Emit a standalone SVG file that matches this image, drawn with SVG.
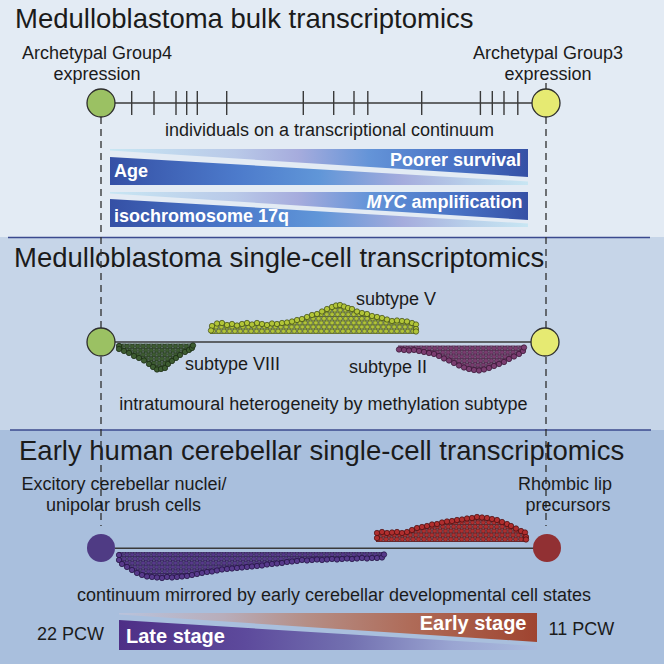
<svg xmlns="http://www.w3.org/2000/svg" width="664" height="664" viewBox="0 0 664 664">
<style>
text{font-family:"Liberation Sans",Arial,Helvetica,sans-serif;fill:#1b1b1b}
.t{font-size:27.5px}
.l{font-size:18px}
.b{font-size:18px;font-weight:bold;fill:#fff}
.b2{font-size:20px;font-weight:bold;fill:#fff}
.mid{text-anchor:middle}
.end{text-anchor:end}
.dash{stroke:#2e2e2e;stroke-width:1.3;stroke-dasharray:7 5;fill:none}
.axis{stroke:#3a3a3a;stroke-width:1.6;fill:none}
.tick{stroke:#3a3a3a;stroke-width:1.4}
.div{stroke:#3b4a8e;stroke-width:1.4}
.ring{stroke:#2e2e2e;stroke-width:1.3}
.cV{fill:#b2c538;stroke:#3a4614;stroke-width:0.7}
.cVIII{fill:#3d5c31;stroke:#172610;stroke-width:0.7}
.cII{fill:#7a3d70;stroke:#341230;stroke-width:0.7}
.cR{fill:#b02e2e;stroke:#450d0e;stroke-width:0.7}
.cP{fill:#573a8b;stroke:#1e0e3c;stroke-width:0.7}
</style>
<defs>
<circle id="d" cx="0" cy="0" r="2.7"/>
<g id="hex">
<circle cx="0" cy="-2.1" r="2.3"/><circle cx="5.4" cy="-2.1" r="2.3"/><circle cx="2.7" cy="2.1" r="2.3"/><circle cx="0" cy="6.3" r="2.3"/><circle cx="5.4" cy="6.3" r="2.3"/><circle cx="2.7" cy="10.5" r="2.3"/>
</g>
<linearGradient id="gU" x1="0" y1="0" x2="1" y2="0">
<stop offset="0" stop-color="#c8e6f3"/><stop offset="0.3" stop-color="#b9c9e8"/><stop offset="0.45" stop-color="#a6acdd"/><stop offset="0.62" stop-color="#6494d8"/><stop offset="0.82" stop-color="#4a74c6"/><stop offset="1" stop-color="#3550a5"/>
</linearGradient>
<linearGradient id="gD" x1="0" y1="0" x2="1" y2="0">
<stop offset="0" stop-color="#3550a5"/><stop offset="0.3" stop-color="#4c7acb"/><stop offset="0.5" stop-color="#6096d8"/><stop offset="0.7" stop-color="#a5acdd"/><stop offset="0.86" stop-color="#b9d0ea"/><stop offset="1" stop-color="#c8e6f3"/>
</linearGradient>
<linearGradient id="gE" x1="0" y1="0" x2="1" y2="0">
<stop offset="0" stop-color="#b9c3dc"/><stop offset="0.25" stop-color="#b8adba"/><stop offset="0.45" stop-color="#b58e86"/><stop offset="0.7" stop-color="#af6b58"/><stop offset="1" stop-color="#9f4430"/>
</linearGradient>
<linearGradient id="gL" x1="0" y1="0" x2="1" y2="0">
<stop offset="0" stop-color="#4e2f86"/><stop offset="0.3" stop-color="#5d4a9c"/><stop offset="0.55" stop-color="#7270b0"/><stop offset="0.8" stop-color="#9aa5d2"/><stop offset="1" stop-color="#aabcde"/>
</linearGradient>
<pattern id="pV" x="0" y="329.1" width="5.4" height="8.4" patternUnits="userSpaceOnUse"><use href="#hex" class="cV"/></pattern>
<pattern id="pVIII" x="0" y="344.1" width="5.4" height="8.4" patternUnits="userSpaceOnUse"><use href="#hex" class="cVIII"/></pattern>
<pattern id="pII" x="0" y="346.1" width="5.4" height="8.4" patternUnits="userSpaceOnUse"><use href="#hex" class="cII"/></pattern>
<pattern id="pR" x="0" y="537.2" width="5.4" height="8.4" patternUnits="userSpaceOnUse"><use href="#hex" class="cR"/></pattern>
<pattern id="pP" x="0" y="552.5" width="5.4" height="8.4" patternUnits="userSpaceOnUse"><use href="#hex" class="cP"/></pattern>
</defs>

<g id="backgrounds">
<rect x="0" y="0" width="664" height="237" fill="#e3ebf4"/>
<rect x="0" y="237" width="664" height="193" fill="#c6d5e8"/>
<rect x="0" y="430" width="664" height="234" fill="#a9bfdd"/>
<line class="div" x1="8" y1="237.5" x2="650" y2="237.5"/>
<line class="div" x1="10" y1="430" x2="651" y2="430"/>
</g>

<g id="titles">
<text class="t" x="15" y="28">Medulloblastoma bulk transcriptomics</text>
<text class="t" x="14" y="267">Medulloblastoma single-cell transcriptomics</text>
<text class="t" x="19" y="460">Early human cerebellar single-cell transcriptomics</text>
</g>

<g id="connectors">
<line class="dash" x1="101" y1="117" x2="101" y2="526"/>
<line class="dash" x1="546" y1="83" x2="546" y2="89"/>
<line class="dash" x1="546" y1="117" x2="546" y2="526"/>
<line class="axis" x1="114" y1="103" x2="532" y2="103"/>
<g class="tick">
<line x1="131.7" y1="91" x2="131.7" y2="115"/>
<line x1="154" y1="91" x2="154" y2="115"/>
<line x1="176" y1="91" x2="176" y2="115"/>
<line x1="186.7" y1="91" x2="186.7" y2="115"/>
<line x1="197.3" y1="91" x2="197.3" y2="115"/>
<line x1="226.7" y1="91" x2="226.7" y2="115"/>
<line x1="303.3" y1="91" x2="303.3" y2="115"/>
<line x1="333.7" y1="91" x2="333.7" y2="115"/>
<line x1="354" y1="91" x2="354" y2="115"/>
<line x1="367.8" y1="91" x2="367.8" y2="115"/>
<line x1="421.7" y1="91" x2="421.7" y2="115"/>
<line x1="480.4" y1="91" x2="480.4" y2="115"/>
<line x1="492.3" y1="91" x2="492.3" y2="115"/>
<line x1="504" y1="91" x2="504" y2="115"/>
<line x1="517.8" y1="91" x2="517.8" y2="115"/>
</g>
<line class="axis" x1="114" y1="342" x2="532" y2="342" stroke="#555"/>
<line class="axis" x1="115" y1="548.3" x2="534" y2="548.3" stroke="#222"/>
</g>

<g id="bulk-labels">
<text class="l mid" x="97" y="59">Archetypal Group4</text>
<text class="l mid" x="97" y="80">expression</text>
<text class="l mid" x="548" y="59">Archetypal Group3</text>
<text class="l mid" x="548" y="80">expression</text>
<text class="l mid" x="329.5" y="136">individuals on a transcriptional continuum</text>
</g>

<g id="node-g4-bulk"><circle class="ring" cx="101" cy="103" r="14" fill="#9bc163"/></g>
<g id="node-g3-bulk"><circle class="ring" cx="546" cy="103" r="14" fill="#e6ea72"/></g>

<g id="bar-age">
<polygon points="110,149 528,149 528,177 110,150.5" fill="url(#gU)"/>
<polygon points="110,157 528,181.5 528,185 110,185" fill="url(#gD)"/>
<text class="b end" x="521" y="166">Poorer survival</text>
<text class="b" x="114" y="177">Age</text>
</g>
<g id="bar-myc">
<polygon points="110,192 528,192 528,220 110,193.5" fill="url(#gU)"/>
<polygon points="110,199 528,223.5 528,227 110,227" fill="url(#gD)"/>
<text class="b end" x="522.5" y="208"><tspan font-style="italic">MYC</tspan> amplification</text>
<text class="b" x="114" y="221.5">isochromosome 17q</text>
</g>

<g id="node-g4-sc"><circle class="ring" cx="101" cy="342" r="14" fill="#9bc163"/></g>
<g id="node-g3-sc"><circle class="ring" cx="545" cy="342" r="14" fill="#e6ea72"/></g>

<g id="cluster-subtype-V">
<polygon points="210,333.9 210,326 217,323.5 227,325 237,325.5 247,323 257,323 267,325 277,324 287,322.5 297,320 307,317 317,314 327,309 336,305.5 340,305 348,308 357,311.5 367,314 377,317 387,319.5 397,320.5 407,321.5 416,324.5 417,333.9" fill="url(#pV)"/>
<g class="cV">
<use href="#d" x="212" y="326"/><use href="#d" x="211" y="330.5"/><use href="#d" x="217" y="323.5"/><use href="#d" x="222" y="323"/><use href="#d" x="227" y="325"/><use href="#d" x="232" y="324"/><use href="#d" x="237" y="325.5"/><use href="#d" x="242" y="324"/><use href="#d" x="247" y="323"/><use href="#d" x="252" y="324.5"/><use href="#d" x="257" y="323"/><use href="#d" x="262" y="324"/><use href="#d" x="267" y="325"/><use href="#d" x="272" y="323.5"/><use href="#d" x="277" y="324"/><use href="#d" x="282" y="323"/><use href="#d" x="287" y="322.5"/><use href="#d" x="292" y="321.5"/><use href="#d" x="297" y="320"/><use href="#d" x="302" y="319"/><use href="#d" x="307" y="317"/><use href="#d" x="312" y="315"/><use href="#d" x="317" y="314"/><use href="#d" x="322" y="311.5"/><use href="#d" x="327" y="309"/><use href="#d" x="332" y="307"/><use href="#d" x="336" y="305.5"/><use href="#d" x="340" y="305"/><use href="#d" x="344" y="306.5"/><use href="#d" x="348" y="308"/><use href="#d" x="352" y="309"/><use href="#d" x="357" y="311.5"/><use href="#d" x="362" y="313"/><use href="#d" x="367" y="314"/><use href="#d" x="372" y="316"/><use href="#d" x="377" y="317"/><use href="#d" x="382" y="318"/><use href="#d" x="387" y="319.5"/><use href="#d" x="392" y="321"/><use href="#d" x="397" y="320.5"/><use href="#d" x="402" y="321"/><use href="#d" x="407" y="321.5"/><use href="#d" x="412" y="323"/><use href="#d" x="416" y="324.5"/><use href="#d" x="416" y="329"/><use href="#d" x="416" y="331.5"/>
</g>
<text class="l" x="356" y="305">subtype V</text>
</g>

<g id="cluster-subtype-VIII">
<polygon points="118,343.6 193,343.6 193,346 189,350 185,352 180,355 176,358 172,361 168,364 165,368 161,369 157,369.5 153,367 149,364 144,360.5 139,358 134,356 129,353 124,351 119,349" fill="url(#pVIII)"/>
<g class="cVIII">
<use href="#d" x="119" y="346"/><use href="#d" x="119" y="349"/><use href="#d" x="124" y="351"/><use href="#d" x="129" y="353"/><use href="#d" x="134" y="356"/><use href="#d" x="139" y="358"/><use href="#d" x="144" y="360.5"/><use href="#d" x="149" y="364"/><use href="#d" x="153" y="367"/><use href="#d" x="157" y="369.5"/><use href="#d" x="161" y="369"/><use href="#d" x="165" y="368"/><use href="#d" x="168" y="364"/><use href="#d" x="172" y="361"/><use href="#d" x="176" y="358"/><use href="#d" x="180" y="355"/><use href="#d" x="185" y="352"/><use href="#d" x="189" y="350"/><use href="#d" x="192" y="348"/><use href="#d" x="193" y="345.5"/>
</g>
<text class="l" x="185" y="370">subtype VIII</text>
</g>

<g id="cluster-subtype-II">
<polygon points="398,345.6 524,345.6 524,347.5 523,351 519,354 514,356.5 509,359 504,362 499,364 494,366 489,368 484,369.5 479,370.5 474,370 469,369 464,367.5 459,365.5 454,363 449,360.5 444,358.5 439,356 434,354 429,353 424,352 419,351 414,350 409,350.5 404,350 399,349.5" fill="url(#pII)"/>
<g class="cII">
<use href="#d" x="399" y="349.5"/><use href="#d" x="404" y="350"/><use href="#d" x="409" y="350.5"/><use href="#d" x="414" y="350"/><use href="#d" x="419" y="351"/><use href="#d" x="424" y="352"/><use href="#d" x="429" y="353"/><use href="#d" x="434" y="354"/><use href="#d" x="439" y="356"/><use href="#d" x="444" y="358.5"/><use href="#d" x="449" y="360.5"/><use href="#d" x="454" y="363"/><use href="#d" x="459" y="365.5"/><use href="#d" x="464" y="367.5"/><use href="#d" x="469" y="369"/><use href="#d" x="474" y="370"/><use href="#d" x="479" y="370.5"/><use href="#d" x="484" y="369.5"/><use href="#d" x="489" y="368"/><use href="#d" x="494" y="366"/><use href="#d" x="499" y="364"/><use href="#d" x="504" y="362"/><use href="#d" x="509" y="359"/><use href="#d" x="514" y="356.5"/><use href="#d" x="519" y="354"/><use href="#d" x="523" y="351"/><use href="#d" x="524" y="347.5"/>
</g>
<text class="l" x="349" y="373">subtype II</text>
</g>
<text class="l mid" x="323.4" y="410">intratumoural heterogeneity by methylation subtype</text>

<g id="dev-labels">
<text class="l mid" x="124" y="490">Excitory cerebellar nuclei/</text>
<text class="l mid" x="123.5" y="511">unipolar brush cells</text>
<text class="l mid" x="565" y="490">Rhombic lip</text>
<text class="l mid" x="568" y="511">precursors</text>
</g>

<g id="node-ecn"><circle cx="101" cy="548" r="14" fill="#4f3b84"/></g>
<g id="node-rl"><circle cx="547" cy="548" r="14" fill="#913033"/></g>

<g id="cluster-rl">
<polygon points="376,541.9 376,533 382,532 392,532.5 402,533 407,532 412,530 417,528 422,527 432,524.5 442,522.5 452,521 462,519.5 472,518 477,517 482,517.5 492,519 502,522 507,524 511,526 516,528.5 521,531 525,532.5 527,537 527,541.9" fill="url(#pR)"/>
<g class="cR">
<use href="#d" x="377" y="533"/><use href="#d" x="377" y="538"/><use href="#d" x="382" y="532"/><use href="#d" x="387" y="533"/><use href="#d" x="392" y="532.5"/><use href="#d" x="397" y="532"/><use href="#d" x="402" y="533"/><use href="#d" x="407" y="532"/><use href="#d" x="412" y="530"/><use href="#d" x="417" y="528"/><use href="#d" x="422" y="527"/><use href="#d" x="427" y="526"/><use href="#d" x="432" y="524.5"/><use href="#d" x="437" y="524"/><use href="#d" x="442" y="522.5"/><use href="#d" x="447" y="521.5"/><use href="#d" x="452" y="521"/><use href="#d" x="457" y="520"/><use href="#d" x="462" y="519.5"/><use href="#d" x="467" y="518.5"/><use href="#d" x="472" y="518"/><use href="#d" x="477" y="517"/><use href="#d" x="482" y="517.5"/><use href="#d" x="487" y="518"/><use href="#d" x="492" y="519"/><use href="#d" x="497" y="520"/><use href="#d" x="502" y="522"/><use href="#d" x="507" y="524"/><use href="#d" x="511" y="526"/><use href="#d" x="516" y="528.5"/><use href="#d" x="521" y="531"/><use href="#d" x="525" y="532.5"/><use href="#d" x="526" y="537"/><use href="#d" x="526" y="539.5"/>
</g>
</g>

<g id="cluster-ecn">
<polygon points="118,552 385,552 384,554.5 382,557.5 362,558 342,559 322,560 302,560 292,561.5 282,563 272,564 262,565.5 252,566.5 242,567.5 232,568.5 222,569.5 212,571.5 202,573 192,575 182,576.5 172,577.5 162,578 152,577 142,575 137,573 132,570 127,567 122,564 119,560" fill="url(#pP)"/>
<g class="cP">
<use href="#d" x="119" y="555"/><use href="#d" x="119" y="560"/><use href="#d" x="122" y="564"/><use href="#d" x="127" y="567"/><use href="#d" x="132" y="570"/><use href="#d" x="137" y="573"/><use href="#d" x="142" y="575"/><use href="#d" x="147" y="576.5"/><use href="#d" x="152" y="577"/><use href="#d" x="157" y="577.5"/><use href="#d" x="162" y="578"/><use href="#d" x="167" y="577"/><use href="#d" x="172" y="577.5"/><use href="#d" x="177" y="577"/><use href="#d" x="182" y="576.5"/><use href="#d" x="187" y="576"/><use href="#d" x="192" y="575"/><use href="#d" x="197" y="574"/><use href="#d" x="202" y="573"/><use href="#d" x="207" y="572"/><use href="#d" x="212" y="571.5"/><use href="#d" x="217" y="570.5"/><use href="#d" x="222" y="569.5"/><use href="#d" x="227" y="569"/><use href="#d" x="232" y="568.5"/><use href="#d" x="237" y="568"/><use href="#d" x="242" y="567.5"/><use href="#d" x="247" y="567"/><use href="#d" x="252" y="566.5"/><use href="#d" x="257" y="566"/><use href="#d" x="262" y="565.5"/><use href="#d" x="267" y="564.5"/><use href="#d" x="272" y="564"/><use href="#d" x="277" y="563.5"/><use href="#d" x="282" y="563"/><use href="#d" x="287" y="562"/><use href="#d" x="292" y="561.5"/><use href="#d" x="297" y="561"/><use href="#d" x="302" y="560"/><use href="#d" x="307" y="560.5"/><use href="#d" x="312" y="560"/><use href="#d" x="317" y="559.5"/><use href="#d" x="322" y="560"/><use href="#d" x="327" y="559.5"/><use href="#d" x="332" y="559"/><use href="#d" x="337" y="559.5"/><use href="#d" x="342" y="559"/><use href="#d" x="347" y="558.5"/><use href="#d" x="352" y="559"/><use href="#d" x="357" y="558.5"/><use href="#d" x="362" y="558"/><use href="#d" x="367" y="558.5"/><use href="#d" x="372" y="558"/><use href="#d" x="377" y="558"/><use href="#d" x="382" y="557.5"/><use href="#d" x="384" y="554.5"/>
</g>
</g>

<text class="l mid" x="334" y="600.5">continuum mirrored by early cerebellar developmental cell states</text>

<g id="bar-stage">
<polygon points="119,613 537,613 537,642 119,614.5" fill="url(#gE)"/>
<polygon points="119,620 537,646 537,650 119,650" fill="url(#gL)"/>
<text class="b2 end" x="526.5" y="630">Early stage</text>
<text class="b2" x="126" y="643">Late stage</text>
</g>
<text class="l" x="37" y="640">22 PCW</text>
<text class="l" x="548.5" y="634.5">11 PCW</text>
</svg>
